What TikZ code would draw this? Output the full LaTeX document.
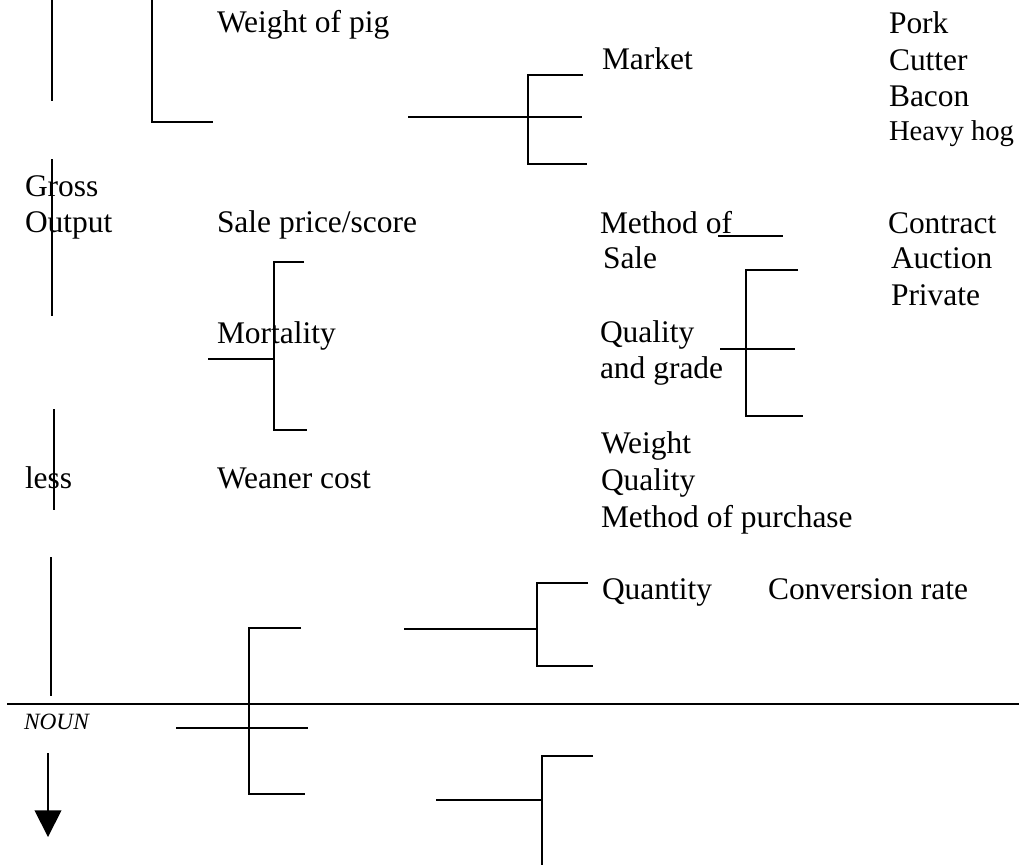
\documentclass[tikz,border=0pt]{standalone}
\usepackage{fontspec}
\setmainfont{Liberation Serif}
\usepackage{tikz}
\usetikzlibrary{arrows.meta, positioning}

\begin{document}
\begin{tikzpicture}[
    x=0.75pt, y=-0.75pt,
    font=\fontsize{23.6}{28}\selectfont,
    label/.style={anchor=base west, inner sep=0pt, outer sep=0pt},
    small/.style={label, font=\fontsize{21.5}{26}\selectfont},
    note/.style={label, font=\fontsize{17.5}{21}\selectfont\itshape},
    rule/.style={line width=1.4pt},
    brace/.style={line width=1.4pt}
]
    \useasboundingbox (0,0) rectangle (1019,865);

    % Labels
    \node[label] (pig) at (217,32) {Weight of pig};
    \node[label] (market) at (602,69) {Market};
    \node[label] (pork) at (889,33) {Pork};
    \node[label] (cutter) at (889,70) {Cutter};
    \node[label] (bacon) at (889,106) {Bacon};
    \node[small] (hog) at (889,140) {Heavy hog};
    \node[label] (gross) at (25,196) {Gross};
    \node[label] (output) at (25,232) {Output};
    \node[label] (price) at (217,232) {Sale price/score};
    \node[label] (method) at (600,233) {Method of};
    \node[label] (sale) at (603,268) {Sale};
    \node[label] (contract) at (888,233) {Contract};
    \node[label] (auction) at (891,268) {Auction};
    \node[label] (private) at (891,305) {Private};
    \node[label] (mort) at (217,343) {Mortality};
    \node[label] (quality) at (600,342) {Quality};
    \node[label] (grade) at (600,378) {and grade};
    \node[label] (wweight) at (601,453) {Weight};
    \node[label] (wquality) at (601,490) {Quality};
    \node[label] (wmethod) at (601,527) {Method of purchase};
    \node[label] (less) at (25,488) {less};
    \node[label] (weaner) at (217,488) {Weaner cost};
    \node[label] (quantity) at (602,599) {Quantity};
    \node[label] (conv) at (768,599) {Conversion rate};
    \node[note] (noun) at (24,729) {NOUN};

    % Left axis
    \draw[rule] (52,0) -- (52,101);
    \draw[rule] (52,159) -- (52,316);
    \draw[rule] (54,409) -- (54,510);
    \draw[rule] (51,557) -- (51,696);
    \draw[line width=1.4pt, -{Triangle[length=20pt, width=20pt]}] (48,753) -- (48,837);
    \draw[line width=1.6pt] (7,704) -- (1019,704);

    % Brackets
    \draw[brace] (152,0) -- (152,122) -- (213,122);
    \draw[brace] (583,75) -- (528,75) -- (528,164) -- (587,164);
    \draw[brace] (408,117) -- (582,117);
    \draw[brace] (718,236) -- (783,236);
    \draw[brace] (304,262) -- (274,262) -- (274,430) -- (307,430);
    \draw[brace] (208,359) -- (274,359);
    \draw[brace] (798,270) -- (746,270) -- (746,416) -- (803,416);
    \draw[brace] (720,349) -- (795,349);
    \draw[brace] (301,628) -- (249,628) -- (249,794) -- (305,794);
    \draw[brace] (176,728) -- (308,728);
    \draw[brace] (588,583) -- (537,583) -- (537,666) -- (593,666);
    \draw[brace] (404,629) -- (537,629);
    \draw[brace] (593,756) -- (542,756) -- (542,865);
    \draw[brace] (436,800) -- (542,800);
\end{tikzpicture}
\end{document}
